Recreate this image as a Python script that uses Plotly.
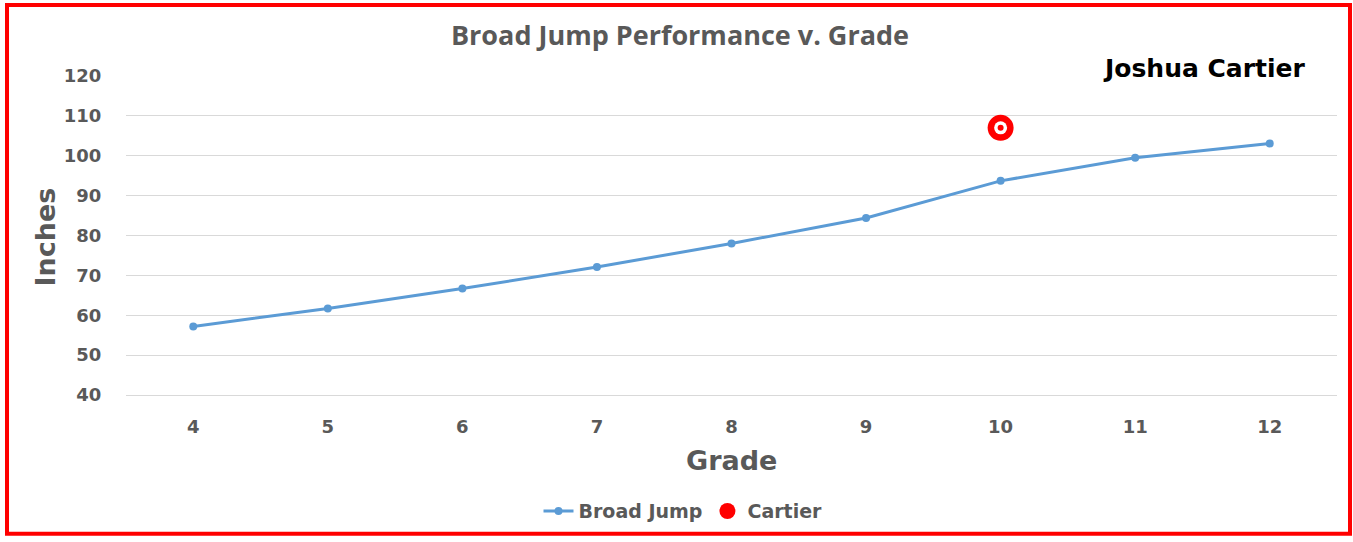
import plotly.graph_objects as go

grades = [4, 5, 6, 7, 8, 9, 10, 11, 12]
broad_jump = [57.2, 61.7, 66.7, 72.1, 78.0, 84.4, 93.7, 99.5, 103.1]
cartier_grade = [10]
cartier_inches = [107]
y_ticks = [40, 50, 60, 70, 80, 90, 100, 110, 120]

W, H = 1353, 542
L, R, T, B = 126, 16, 76, 142
pw, ph = W - L - R, H - T - B

def px_x(p):
    return (p - L) / pw

def px_y(p):
    return (H - B - p) / ph

grey = "#595959"
font_fam = "DejaVu Sans, Liberation Sans, Arial"

fig = go.Figure()
fig.add_trace(go.Scatter(
    x=grades, y=broad_jump, mode="lines+markers", name="Broad Jump",
    line=dict(color="#5b9bd5", width=3),
    marker=dict(color="#5b9bd5", size=8),
))
fig.add_trace(go.Scatter(
    x=cartier_grade, y=cartier_inches, mode="markers", name="Cartier",
    marker=dict(color="#ff0000", size=26),
))
fig.add_trace(go.Scatter(
    x=cartier_grade, y=cartier_inches, mode="markers", showlegend=False,
    marker=dict(color="#ffffff", size=13), hoverinfo="skip",
))
fig.add_trace(go.Scatter(
    x=cartier_grade, y=cartier_inches, mode="markers", showlegend=False,
    marker=dict(color="#ff0000", size=6), hoverinfo="skip",
))

fig.update_layout(
    width=W, height=H,
    margin=dict(l=L, r=R, t=T, b=B),
    paper_bgcolor="white", plot_bgcolor="white",
    title=dict(text="<b>Broad Jump Performance v. Grade</b>",
               font=dict(family="Open Sans, Lato", size=27, color=grey),
               xref="container", yref="container", x=680 / W, y=1 - 36 / H,
               xanchor="center", yanchor="middle"),
    xaxis=dict(range=[3.5, 12.5], tickvals=grades, ticktext=[str(g) for g in grades],
               showgrid=False, zeroline=False, showline=True, linecolor="#d9d9d9", linewidth=1,
               ticks="outside", ticklen=15, tickcolor="rgba(0,0,0,0)",
               tickfont=dict(family=font_fam, size=18, color=grey, weight="bold")),
    yaxis=dict(range=[40, 120], tickvals=y_ticks, showgrid=True, gridcolor="#d9d9d9",
               gridwidth=1, zeroline=False, showline=False,
               ticks="outside", ticklen=20, tickcolor="rgba(0,0,0,0)",
               tickfont=dict(family=font_fam, size=18, color=grey, weight="bold")),
    legend=dict(orientation="h", x=px_x(683), y=px_y(518), xanchor="center", yanchor="middle",
                font=dict(family=font_fam, size=19, color=grey, weight="bold"),
                bgcolor="rgba(0,0,0,0)"),
    showlegend=True,
)

fig.add_annotation(text="<b>Grade</b>", xref="paper", yref="paper", x=px_x(731), y=px_y(467),
                   showarrow=False, xanchor="center", yanchor="middle",
                   font=dict(family=font_fam, size=27, color=grey))
fig.add_annotation(text="<b>Inches</b>", xref="paper", yref="paper", x=px_x(45), y=px_y(239),
                   showarrow=False, xanchor="center", yanchor="middle", textangle=-90,
                   font=dict(family=font_fam, size=27, color=grey))
fig.add_annotation(text="<b>Joshua Cartier</b>", xref="paper", yref="paper", x=px_x(1204), y=px_y(68),
                   showarrow=False, xanchor="center", yanchor="middle",
                   font=dict(family=font_fam, size=25, color="#000000"))

fig.add_shape(type="rect", xref="paper", yref="paper",
              x0=px_x(7), x1=px_x(1350), y0=px_y(541), y1=px_y(4),
              line=dict(color="#ff0000", width=4), fillcolor="rgba(0,0,0,0)", layer="above")

fig.write_html(
    "out.html", config={"displayModeBar": False},
    post_script=("document.body.style.margin='0';"
                 "document.body.style.overflow='hidden';"
                 "document.documentElement.style.overflow='hidden';"),
)
